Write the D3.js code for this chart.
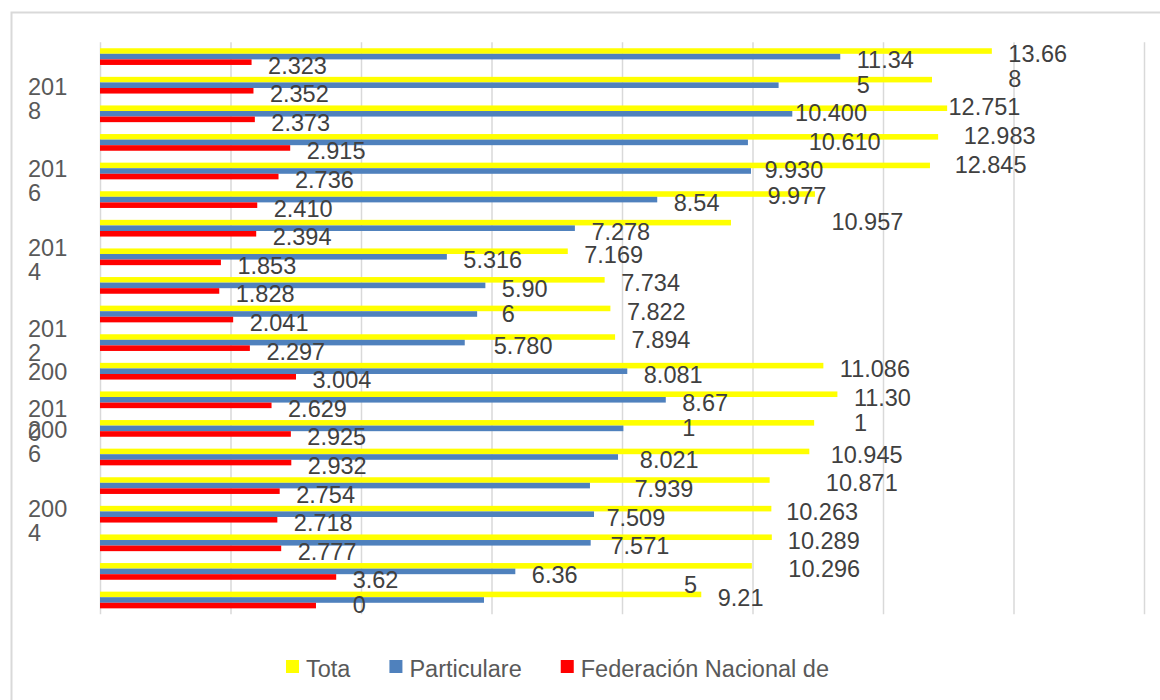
<!DOCTYPE html>
<html>
<head>
    <meta charset="utf-8">
    <style>
        body { margin: 0; background: #fff; }
        text { font-family: "Liberation Sans", Arial, sans-serif; }
        .lbl { font-size: 23.5px; fill: #404040; }
        .cat { font-size: 23.5px; fill: #595959; }
        .leg { font-size: 23.5px; fill: #595959; }
        .grid line { stroke: #d9d9d9; stroke-width: 1.5; }
        .grid path { display: none; }
    </style>
    <script src="https://d3js.org/d3.v7.min.js"></script>
</head>
<body>
    <script>
        // rows from top to bottom
        var years = ["2019", "2018", "2017", "2016", "2015", "2014", "2013", "2012", "2011", "2010",
                     "2009", "2008", "2007", "2006", "2005", "2004", "2003", "2002", "2001", "2000"];

        var total = [13.668, 12.751, 12.983, 12.845, 12.72, 10.957, 9.67, 7.169, 7.734, 7.822,
                     7.894, 11.086, 11.301, 10.945, 10.871, 10.263, 10.289, 10.296, 9.99, 9.215];
        var particulares = [11.345, 10.400, 10.610, 9.930, 9.977, 8.54, 7.278, 5.316, 5.906, 5.780,
                            5.59, 8.081, 8.671, 8.021, 7.939, 7.509, 7.571, 7.52, 6.365, 5.885];
        var federacion = [2.323, 2.352, 2.373, 2.915, 2.736, 2.410, 2.394, 1.853, 1.828, 2.041,
                          2.297, 3.004, 2.629, 2.925, 2.932, 2.754, 2.718, 2.777, 3.620, 3.31];

        // data labels as they show up (wrapped, some hidden, some pushed down about a row)
        var totalLabels = ["13.66\n8", "12.751", "12.983", "12.845", null, "10.957", null, "7.169", "7.734", "7.822",
                           "7.894", "11.086", "11.30\n1", "10.945", "10.871", "10.263", "10.289", "10.296", null, "9.21"];
        var totalDrop = [0, 0.85, 0.85, 0.85, 0, 0.85, 0, 0, 0, 0, 0, 0, 0, 1, 1, 1, 1, 1, 0, 0];
        var partLabels = ["11.34\n5", "10.400", "10.610", "9.930", "9.977", "8.54", "7.278", "5.316", "5.90\n6", "5.780",
                          null, "8.081", "8.67\n1", "8.021", "7.939", "7.509", "7.571", null, "6.36", null];
        var partDrop = [0, 0.85, 0.85, 0.85, 0.75, 0, 0, 0, 0, 1, 0, 0, 0, 1, 1, 1, 1, 0, 0, 0];
        var fedLabels = ["2.323", "2.352", "2.373", "2.915", "2.736", "2.410", "2.394", "1.853", "1.828", "2.041",
                         "2.297", "3.004", "2.629", "2.925", "2.932", "2.754", "2.718", "2.777", "3.62\n0", null];
        var fedDrop = [0, 0, 0, 0, 0, 0, 0, 0, 0, 0, 0, 0, 0, 0, 0, 0, 0, 0, 0, 0];
        var strayLabels = [{ text: "5", value: 8.95, row: 18.95 }];

        // category tick labels, "at" is a row position (0 = top edge, 20 = bottom edge)
        var yearTicks = [
            { lines: ["201", "8"], at: 1.98 },
            { lines: ["201", "6"], at: 4.85 },
            { lines: ["201", "4"], at: 7.61 },
            { lines: ["201", "2"], at: 10.44 },
            { lines: ["200"], at: 11.53 },
            { lines: ["201", "0"], at: 13.24 },
            { lines: ["200", "6"], at: 13.98 },
            { lines: ["200", "4"], at: 16.74 }
        ];

        var seriesNames = ["Tota", "Particulare", "Federación Nacional de"];
        var seriesColors = ["#ffff00", "#4f81bd", "#ff0000"];

        var width = 1160, height = 700;
        var plotLeft = 100, plotRight = 1144, plotTop = 42.3, plotBottom = 614.3;

        var svg = d3.select("body").append("svg")
            .attr("width", width).attr("height", height);

        svg.append("rect")
            .attr("x", 11.5).attr("y", 12.5)
            .attr("width", width).attr("height", height)
            .attr("fill", "none").attr("stroke", "#d9d9d9").attr("stroke-width", 2);

        var x = d3.scaleLinear().domain([0, 16]).range([plotLeft, plotRight]);
        var y = d3.scaleBand().domain(years).range([plotTop, plotBottom])
            .paddingInner(0.416).paddingOuter(0.208);
        var inner = d3.scaleBand().domain(seriesNames).range([0, y.bandwidth()]);
        var rowPos = d3.scaleLinear().domain([0, years.length]).range([plotTop, plotBottom]);

        svg.append("g")
            .attr("class", "grid")
            .attr("transform", "translate(0," + plotBottom + ")")
            .call(d3.axisBottom(x).tickValues(d3.range(0, 17, 2)).tickSize(-(plotBottom - plotTop)).tickFormat(""));

        var series = [
            { name: seriesNames[0], values: total, labels: totalLabels, drop: totalDrop },
            { name: seriesNames[1], values: particulares, labels: partLabels, drop: partDrop },
            { name: seriesNames[2], values: federacion, labels: fedLabels, drop: fedDrop }
        ];

        series.forEach(function(s, si) {
            var rows = years.map(function(yr, i) {
                return { year: yr, value: s.values[i], label: s.labels[i], drop: s.drop[i] };
            });

            svg.append("g").selectAll("rect")
                .data(rows)
                .enter().append("rect")
                .attr("x", x(0))
                .attr("y", function(d) { return y(d.year) + inner(s.name); })
                .attr("width", function(d) { return x(d.value) - x(0); })
                .attr("height", inner.bandwidth())
                .attr("fill", seriesColors[si]);

            var lab = svg.append("g").selectAll("text")
                .data(rows.filter(function(d) { return d.label; }))
                .enter().append("text")
                .attr("class", "lbl")
                .attr("x", function(d) { return x(d.value) + 16.5; })
                .attr("y", function(d) {
                    return y(d.year) + inner(s.name) + inner.bandwidth() / 2 + 11.4 + d.drop * y.step();
                });
            lab.each(function(d) {
                var t = d3.select(this), px = t.attr("x");
                d.label.split("\n").forEach(function(line, li) {
                    t.append("tspan").attr("x", px).attr("dy", li ? 25 : 0).text(line);
                });
            });
        });

        svg.append("g").selectAll("text")
            .data(strayLabels)
            .enter().append("text")
            .attr("class", "lbl")
            .attr("x", function(d) { return x(d.value); })
            .attr("y", function(d) { return rowPos(d.row) + 8.4; })
            .text(function(d) { return d.text; });

        // category labels (wrapped, left aligned)
        var cats = svg.append("g").selectAll("text")
            .data(yearTicks)
            .enter().append("text")
            .attr("class", "cat")
            .attr("x", 28)
            .attr("y", function(d) { return rowPos(d.at) - (d.lines.length - 1) * 12 + 8; });
        cats.each(function(d) {
            var t = d3.select(this);
            d.lines.forEach(function(line, li) {
                t.append("tspan").attr("x", 28).attr("dy", li ? 24 : 0).text(line);
            });
        });

        // legend
        var legend = svg.append("g").attr("transform", "translate(286, 660)");
        var lx = 0;
        seriesNames.forEach(function(name, i) {
            var item = legend.append("g").attr("transform", "translate(" + lx + ",0)");
            item.append("rect").attr("width", 13).attr("height", 13).attr("fill", seriesColors[i]);
            var txt = item.append("text").attr("class", "leg").attr("x", 20).attr("y", 16.5).text(name);
            lx += 20 + txt.node().getComputedTextLength() + 39;
        });
    </script>
</body>
</html>
